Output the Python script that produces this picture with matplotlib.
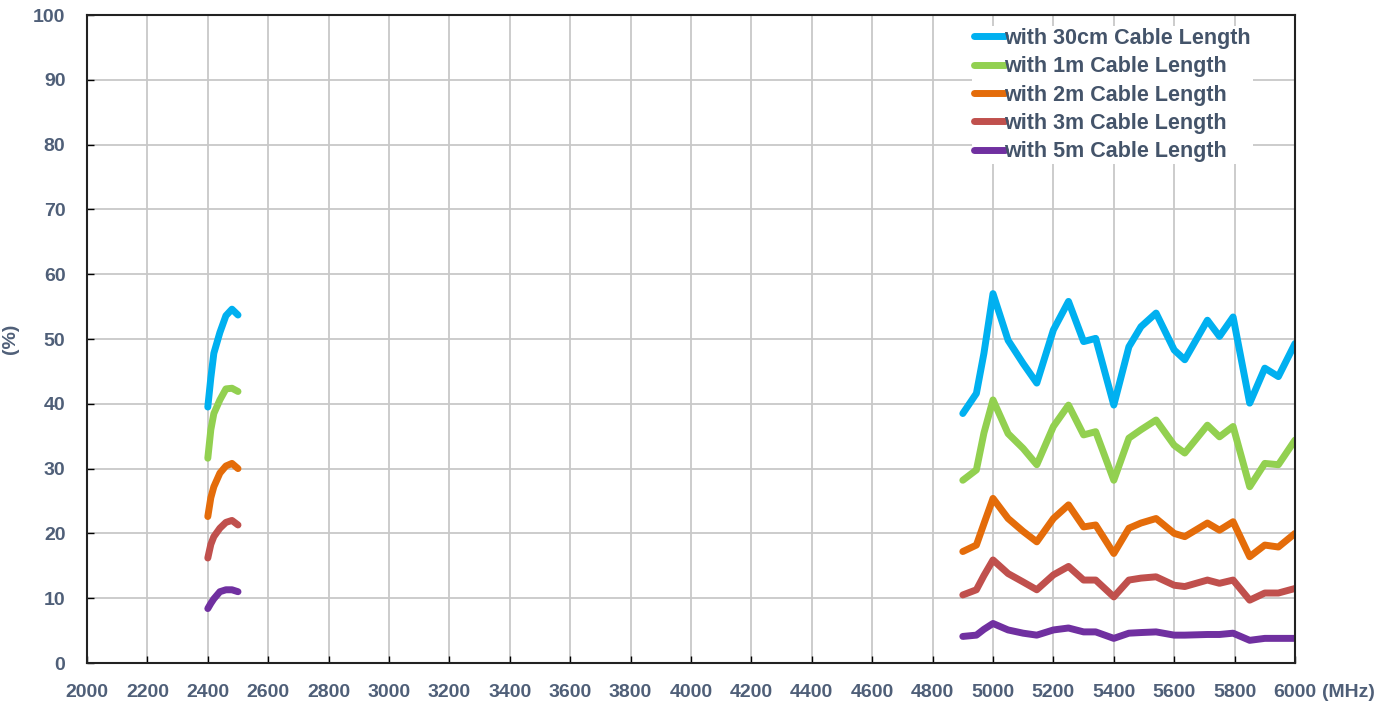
import matplotlib.pyplot as plt
from matplotlib import font_manager
import numpy as np

# frequencies (MHz) for the two bands
f24 = [2400, 2410, 2420, 2440, 2460, 2480, 2500]
f5 = [4900, 4945, 4970, 5000, 5050, 5100, 5145, 5200, 5250, 5300, 5340, 5400,
      5450, 5490, 5540, 5600, 5635, 5710, 5750, 5795, 5850, 5900, 5945, 6000]

# efficiency (%) per cable length
cm30_24 = [39.5, 44.0, 47.8, 51.0, 53.6, 54.6, 53.7]
m1_24 = [31.6, 36.0, 38.5, 40.6, 42.3, 42.4, 41.9]
m2_24 = [22.6, 25.5, 27.2, 29.3, 30.4, 30.8, 30.0]
m3_24 = [16.2, 18.3, 19.5, 20.8, 21.7, 22.0, 21.3]
m5_24 = [8.4, 9.2, 9.9, 11.0, 11.3, 11.3, 11.0]

cm30_5 = [38.5, 41.6, 47.8, 57.0, 49.8, 46.2, 43.2, 51.4, 55.8, 49.6, 50.1, 39.8,
          48.8, 51.9, 54.0, 48.3, 46.8, 52.9, 50.4, 53.4, 40.1, 45.5, 44.2, 49.3]
m1_5 = [28.2, 29.8, 35.5, 40.6, 35.4, 33.1, 30.6, 36.5, 39.8, 35.2, 35.7, 28.2,
        34.7, 36.0, 37.5, 33.6, 32.4, 36.7, 34.9, 36.5, 27.2, 30.8, 30.6, 34.4]
m2_5 = [17.2, 18.2, 21.5, 25.4, 22.3, 20.3, 18.7, 22.3, 24.4, 21.0, 21.3, 16.9,
        20.8, 21.6, 22.3, 20.0, 19.5, 21.6, 20.5, 21.8, 16.4, 18.2, 17.9, 20.0]
m3_5 = [10.5, 11.3, 13.5, 15.9, 13.8, 12.5, 11.3, 13.6, 14.9, 12.8, 12.8, 10.2,
        12.8, 13.1, 13.3, 12.0, 11.8, 12.8, 12.3, 12.8, 9.7, 10.8, 10.8, 11.5]
m5_5 = [4.1, 4.3, 5.2, 6.1, 5.1, 4.6, 4.3, 5.1, 5.4, 4.8, 4.8, 3.8,
        4.6, 4.7, 4.8, 4.3, 4.3, 4.4, 4.4, 4.6, 3.5, 3.8, 3.8, 3.8]

labels = ['with 30cm Cable Length', 'with 1m Cable Length', 'with 2m Cable Length',
          'with 3m Cable Length', 'with 5m Cable Length']
colors = ['#00B0F0', '#92D050', '#E46C0A', '#C0504D', '#7030A0']
band24 = [cm30_24, m1_24, m2_24, m3_24, m5_24]
band5 = [cm30_5, m1_5, m2_5, m3_5, m5_5]

txt = '#44546A'
tick_c = '#4F5F78'

# narrow font if there is one, otherwise plain Liberation Sans
names = set(f.name for f in font_manager.fontManager.ttflist)
narrow = 'Liberation Sans Narrow' in names
fam = ['Liberation Sans Narrow' if narrow else 'Liberation Sans', 'DejaVu Sans']
plt.rcParams['font.family'] = fam

fig = plt.figure(figsize=(13.92, 7.06), dpi=100)
ax = fig.add_axes([87 / 1392, 43 / 706, 1208 / 1392, 648 / 706])

for i in range(len(labels)):
    ax.plot(f24, band24[i], color=colors[i], lw=5, solid_capstyle='round',
            solid_joinstyle='round', label=labels[i])
    ax.plot(f5, band5[i], color=colors[i], lw=5, solid_capstyle='round',
            solid_joinstyle='round')

ax.set_xlim(2000, 6000)
ax.set_ylim(0, 100)
ax.set_xticks(np.arange(2000, 6001, 200))
ax.set_yticks(np.arange(0, 101, 10))
ax.grid(True, color='#c8c8c8', lw=1.3)
ax.set_axisbelow(True)
for s in ax.spines.values():
    s.set_linewidth(1.5)
    s.set_color('#222222')
tsize = 17 if narrow else 14
ax.tick_params(direction='in', length=5, width=1, labelsize=tsize,
               labelcolor=tick_c)
ax.tick_params(axis='x', pad=15)
ax.tick_params(axis='y', pad=15.5)
for t in ax.get_xticklabels() + ax.get_yticklabels():
    t.set_fontweight('bold')

ax.set_ylabel('(%)', fontsize=14, fontweight='bold', color=tick_c, labelpad=10)
ax.text(1.0224, -0.0448, '(MHz)', transform=ax.transAxes, fontsize=tsize,
        fontweight='bold', color=tick_c, va='center', ha='left')

lsize = 19 if narrow else 15.5
leg = ax.legend(loc='upper left', bbox_to_anchor=(0.7239, 1.0), fontsize=lsize,
                frameon=True, fancybox=False, edgecolor='none', framealpha=1,
                handlelength=1.4, handletextpad=0.0, labelspacing=0.34,
                borderpad=0.1)
for t in leg.get_texts():
    t.set_color(txt)
    t.set_fontweight('bold')

fig.savefig('out.png', dpi=100)
